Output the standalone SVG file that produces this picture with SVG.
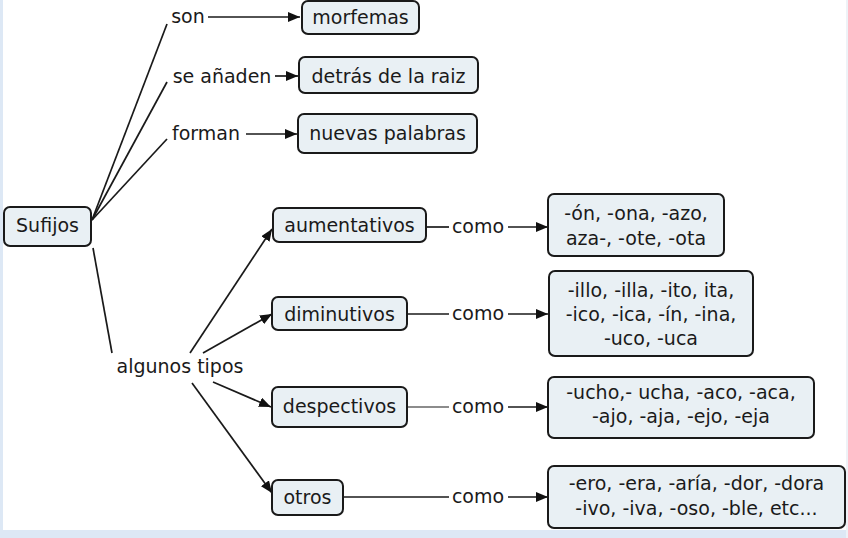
<svg xmlns="http://www.w3.org/2000/svg" width="848" height="538" viewBox="0 0 848 538">
<defs>
<marker id="arr" viewBox="0 0 12 10" refX="12" refY="5" markerWidth="12" markerHeight="10" markerUnits="userSpaceOnUse" orient="auto">
<path d="M0,0 L12,5 L0,10 Z" fill="#111"/>
</marker>
<style>
.n rect{fill:#e9f0f4;stroke:#1a1a1a;stroke-width:2}
text{font-family:"DejaVu Sans",Verdana,sans-serif;font-size:19px;fill:#1a1a1a;text-anchor:middle}
.c line{stroke:#1a1a1a;stroke-width:1.7}
.c line.a{marker-end:url(#arr)}
</style>
</defs>
<rect x="0" y="0" width="848" height="538" fill="#ffffff"/>
<rect x="0" y="0" width="3" height="538" fill="#dde8f5"/>
<rect x="0" y="530" width="848" height="8" fill="#dde8f5"/>
<rect x="846" y="0" width="2" height="538" fill="#eef2f7"/>

<g id="connectors" class="c">
<line x1="92" y1="220" x2="167" y2="24"/>
<line x1="92" y1="220" x2="167" y2="82"/>
<line x1="92" y1="220" x2="167" y2="139"/>
<line class="a" x1="208" y1="17" x2="300" y2="17"/>
<line class="a" x1="275" y1="76" x2="298" y2="76"/>
<line class="a" x1="246" y1="134" x2="297" y2="134"/>
<line x1="93" y1="248" x2="112" y2="353"/>
<line class="a" x1="190" y1="353" x2="272" y2="229"/>
<line class="a" x1="203" y1="353" x2="272" y2="314"/>
<line class="a" x1="213" y1="382" x2="271" y2="407"/>
<line class="a" x1="192" y1="383" x2="272" y2="493"/>
<line x1="426" y1="227" x2="449" y2="227"/>
<line class="a" x1="508" y1="227" x2="548" y2="227"/>
<line x1="407" y1="314" x2="449" y2="314"/>
<line class="a" x1="508" y1="314" x2="548" y2="314"/>
<line x1="407" y1="407" x2="449" y2="407" style="stroke:#666"/>
<line class="a" x1="508" y1="407" x2="548" y2="407"/>
<line x1="343" y1="497" x2="449" y2="497"/>
<line class="a" x1="508" y1="497" x2="548" y2="497"/>
</g>

<g id="lbl-son"><text x="188" y="23">son</text></g>
<g id="lbl-anaden"><text x="222" y="83">se añaden</text></g>
<g id="lbl-forman"><text x="206" y="140">forman</text></g>
<g id="lbl-tipos"><text x="180" y="373">algunos tipos</text></g>
<g id="lbl-como1"><text x="478" y="233">como</text></g>
<g id="lbl-como2"><text x="478" y="320">como</text></g>
<g id="lbl-como3"><text x="478" y="413">como</text></g>
<g id="lbl-como4"><text x="478" y="503">como</text></g>

<g id="sufijos" class="n"><rect x="4" y="207" width="87" height="39" rx="6"/><text x="47.5" y="232">Sufijos</text></g>
<g id="morfemas" class="n"><rect x="302" y="1" width="117" height="33" rx="6"/><text x="360.5" y="24">morfemas</text></g>
<g id="detras" class="n"><rect x="299" y="57" width="179" height="36" rx="6"/><text x="388.5" y="83">detrás de la raiz</text></g>
<g id="nuevas" class="n"><rect x="298" y="114" width="179" height="39" rx="6"/><text x="387.5" y="140">nuevas palabras</text></g>
<g id="aumentativos" class="n"><rect x="273" y="208" width="153" height="34" rx="6"/><text x="349.5" y="232">aumentativos</text></g>
<g id="diminutivos" class="n"><rect x="272" y="297" width="135" height="33" rx="6"/><text x="339.5" y="321">diminutivos</text></g>
<g id="despectivos" class="n"><rect x="272" y="387" width="135" height="40" rx="6"/><text x="339.5" y="413">despectivos</text></g>
<g id="otros" class="n"><rect x="272" y="480" width="71" height="35" rx="6"/><text x="307.5" y="504">otros</text></g>

<g id="ej-aum" class="n"><rect x="548" y="194" width="176" height="62" rx="6"/><text x="636" y="220">-ón, -ona, -azo,</text><text x="636" y="245">aza-, -ote, -ota</text></g>
<g id="ej-dim" class="n"><rect x="549" y="271" width="204" height="85" rx="6"/><text x="651" y="297">-illo, -illa, -ito, ita,</text><text x="651" y="321">-ico, -ica, -ín, -ina,</text><text x="651" y="345">-uco, -uca</text></g>
<g id="ej-des" class="n"><rect x="548" y="377" width="266" height="61" rx="6"/><text x="681" y="399">-ucho,- ucha, -aco, -aca,</text><text x="681" y="423">-ajo, -aja, -ejo, -eja</text></g>
<g id="ej-otr" class="n"><rect x="548" y="466" width="297" height="62" rx="6"/><text x="696.5" y="490">-ero, -era, -aría, -dor, -dora</text><text x="696.5" y="515">-ivo, -iva, -oso, -ble, etc...</text></g>
</svg>
